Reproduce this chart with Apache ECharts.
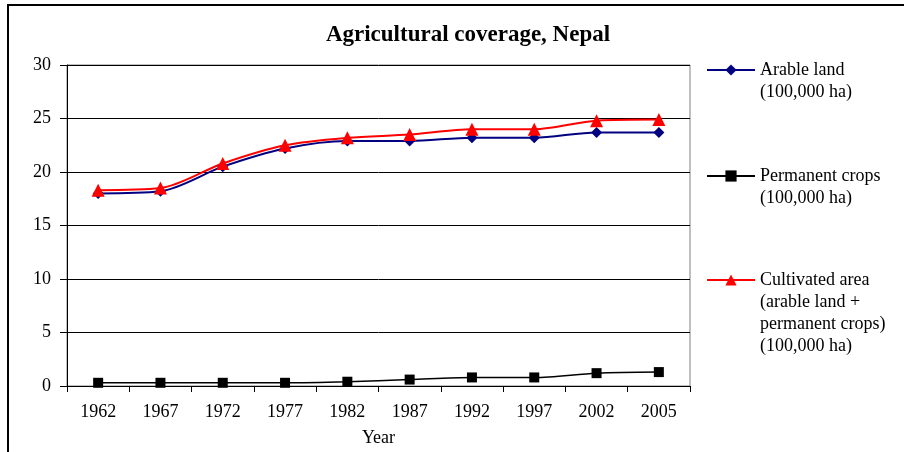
<!DOCTYPE html>
<html>
<head>
<meta charset="utf-8">
<script src="https://cdn.jsdelivr.net/npm/echarts@6/dist/echarts.min.js"></script>
<style>
  html, body { margin: 0; padding: 0; background: #fff; }
  #chart { width: 904px; height: 452px; }
</style>
</head>
<body>
<div id="chart"></div>
<script>
var years = ['1962', '1967', '1972', '1977', '1982', '1987', '1992', '1997', '2002', '2005'];
var arableLand = [18.0, 18.2, 20.5, 22.2, 22.9, 22.9, 23.2, 23.2, 23.7, 23.7];
var permanentCrops = [0.3, 0.3, 0.3, 0.3, 0.4, 0.6, 0.8, 0.8, 1.2, 1.3];
var cultivatedArea = [18.3, 18.5, 20.8, 22.5, 23.2, 23.5, 24.0, 24.0, 24.8, 24.9];
var yTicks = [0, 5, 10, 15, 20, 25, 30];

var legendLines = {
    'Arable land': ['Arable land', '(100,000 ha)'],
    'Permanent crops': ['Permanent crops', '(100,000 ha)'],
    'Cultivated area': ['Cultivated area', '(arable land +', 'permanent crops)', '(100,000 ha)']
};

var font = 'Liberation Serif';
var lh = 22;

// text is centred on the icon, so pad the top with empty lines
// to put the icon level with the first line
function oneLegend(name, iconY) {
    var lines = legendLines[name];
    var n = lines.length;
    var pad = [];
    for (var i = 1; i < n; i++) pad.push(' ');
    return {
        data: [name],
        left: 706,
        top: iconY - (2 * n - 1) * lh / 2,
        orient: 'vertical',
        padding: 0,
        itemWidth: 48,
        itemHeight: 14,
        selectedMode: false,
        formatter: function () { return pad.concat(lines).join('\n'); },
        textStyle: {
            fontFamily: font,
            fontSize: 18,
            color: '#000',
            lineHeight: lh
        }
    };
}

var myChart = echarts.init(document.getElementById('chart'));

var option = {
    backgroundColor: '#fff',
    animation: false,
    title: {
        text: 'Agricultural coverage, Nepal',
        left: 463,
        top: 19,
        textAlign: 'center',
        textStyle: {
            fontFamily: font,
            fontSize: 23,
            fontWeight: 'bold',
            color: '#000'
        }
    },
    graphic: [{
        type: 'rect',
        shape: { x: 8, y: 5, width: 1000, height: 1000 },
        style: { fill: 'none', stroke: '#000', lineWidth: 2 },
        silent: true
    }],
    legend: [
        oneLegend('Arable land', 70),
        oneLegend('Permanent crops', 176),
        oneLegend('Cultivated area', 280)
    ],
    grid: {
        left: 67,
        right: 214,
        top: 65,
        bottom: 66,
        show: true,
        borderColor: '#808080',
        borderWidth: 1,
        backgroundColor: '#fff'
    },
    xAxis: {
        type: 'category',
        data: years,
        boundaryGap: true,
        name: 'Year',
        nameLocation: 'middle',
        nameGap: 43,
        nameTextStyle: { fontFamily: font, fontSize: 18, color: '#000' },
        axisLine: { lineStyle: { color: '#000', width: 1 } },
        axisTick: { show: true, inside: false, length: 6, interval: 0, lineStyle: { color: '#000' } },
        axisLabel: { fontFamily: font, fontSize: 18, color: '#000', margin: 17, interval: 0 },
        splitLine: { show: false }
    },
    yAxis: {
        type: 'value',
        min: yTicks[0],
        max: yTicks[yTicks.length - 1],
        interval: 5,
        axisLine: { show: true, lineStyle: { color: '#000', width: 1 } },
        axisTick: { show: true, inside: false, length: 7, lineStyle: { color: '#000' } },
        axisLabel: { fontFamily: font, fontSize: 18, color: '#000', margin: 16 },
        splitLine: { show: true, lineStyle: { color: '#000', width: 1 } }
    },
    series: [{
        name: 'Arable land',
        type: 'line',
        data: arableLand,
        smooth: 0.3,
        symbol: 'diamond',
        symbolSize: 11,
        itemStyle: { color: '#000080' },
        lineStyle: { color: '#000080', width: 2 }
    }, {
        name: 'Permanent crops',
        type: 'line',
        data: permanentCrops,
        smooth: 0.3,
        symbol: 'rect',
        symbolSize: 10,
        itemStyle: { color: '#000' },
        lineStyle: { color: '#000', width: 1.5 }
    }, {
        name: 'Cultivated area',
        type: 'line',
        data: cultivatedArea,
        smooth: 0.3,
        symbol: 'triangle',
        symbolSize: 13,
        itemStyle: { color: '#ff0000' },
        lineStyle: { color: '#ff0000', width: 2 }
    }]
};
myChart.setOption(option);
</script>
</body>
</html>
